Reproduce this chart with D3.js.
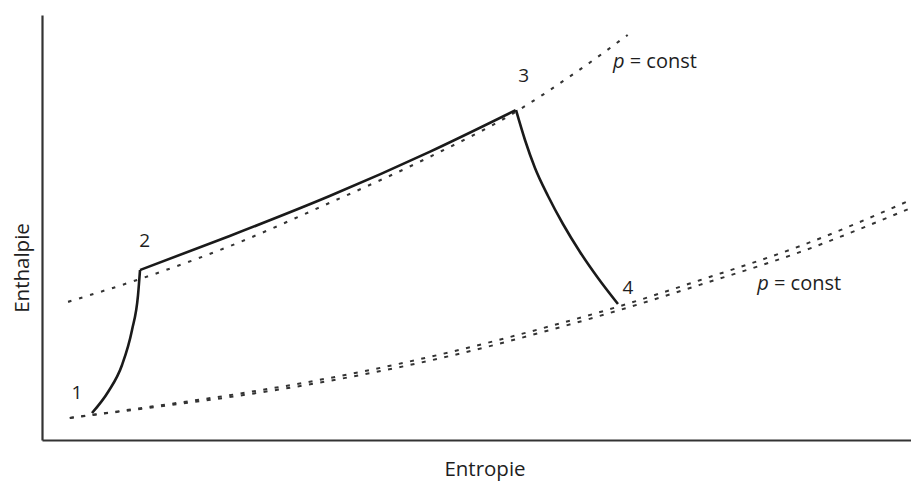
<!DOCTYPE html>
<html><head><meta charset="utf-8">
<script src="https://cdn.jsdelivr.net/npm/d3@7"></script>
<style>body{margin:0;background:#fff}svg{display:block}text{font-family:"Open Sans","Noto Sans",sans-serif;fill:#1e1e1e}</style>
</head><body>
<script>
// Abstract entropy (s) / enthalpy (h) units, 0..100
const compression12 = [[5.75,6.35],[7.6,11.3],[9.2,17.6],[10.36,25.9],[11.05,34.1],[11.28,40.0]];
const heating23 = [[11.28,40.0],[21.6,48.0],[33.1,57.4],[44.6,67.8],[54.5,77.6]];
const expansion34 = [[54.55,77.6],[55.58,70.59],[56.73,64.0],[58.23,57.41],[59.95,50.82],[61.91,44.24],[63.98,38.12],[66.28,32.0]];
const isobarHigh = [[3.0,32.5],[11.3,37.9],[21.6,45.6],[33.1,55.8],[44.6,66.6],[54.5,77.2],[60.8,85.6],[67.4,95.3]];
const isobarLowA = [[3.2,5.2],[12.4,7.8],[23.9,11.3],[35.4,15.5],[47.0,20.7],[58.5,26.8],[66.5,31.5],[75.7,37.6],[87.2,45.6],[100,56.5]];
const isobarLowB = [[3.2,5.2],[12.4,7.6],[23.9,10.8],[35.4,14.8],[47.0,19.8],[58.5,25.9],[66.5,30.6],[75.7,36.5],[87.2,44.2],[100,54.6]];
const pointLabels = [{t:"1",s:3.4,h:9.6},{t:"2",s:11.2,h:45.5},{t:"3",s:54.8,h:84.3},{t:"4",s:66.8,h:34.3}];
const isobarLabels = [{s:65.7,h:87.5},{s:82.3,h:35.3}];
const xTitle = "Entropie", yTitle = "Enthalpie";

const W=911,H=482;
const svg=d3.select("body").append("svg").attr("width",W).attr("height",H);
const x=d3.scaleLinear().domain([0,100]).range([42,911]);
const y=d3.scaleLinear().domain([0,100]).range([440,15]);

svg.append("g").attr("transform","translate(0,440)").call(d3.axisBottom(x).tickValues([]).tickSizeOuter(0));
svg.append("g").attr("transform","translate(42,0)").call(d3.axisLeft(y).tickValues([]).tickSizeOuter(0));
svg.selectAll(".domain").attr("stroke","#333").attr("stroke-width",2.2);

const line=d3.line().x(d=>x(d[0])).y(d=>y(d[1])).curve(d3.curveMonotoneX);

svg.append("path").datum(isobarHigh).attr("d",line).attr("fill","none").attr("stroke","#333").attr("stroke-width",2.1).attr("stroke-dasharray","3.5,8");
[isobarLowA,isobarLowB].forEach(dat=>{
  svg.append("path").datum(dat).attr("d",line).attr("fill","none").attr("stroke","#333").attr("stroke-width",2).attr("stroke-dasharray","4,7.5");
});
[compression12,heating23,expansion34].forEach(dat=>{
  svg.append("path").datum(dat).attr("d",line).attr("fill","none").attr("stroke","#1a1a1a").attr("stroke-width",2.6).attr("stroke-linejoin","miter");
});

svg.selectAll(".pl").data(pointLabels).join("text").attr("x",d=>x(d.s)).attr("y",d=>y(d.h)).attr("font-size",19).text(d=>d.t);
isobarLabels.forEach(d=>{
  const t=svg.append("text").attr("x",x(d.s)).attr("y",y(d.h)).attr("font-size",20);
  t.append("tspan").attr("font-style","italic").text("p");
  t.append("tspan").text(" = const");
});
svg.append("text").attr("x",485).attr("y",476).attr("text-anchor","middle").attr("font-size",20.5).text(xTitle);
svg.append("text").attr("transform","translate(29,268) rotate(-90)").attr("text-anchor","middle").attr("font-size",20.5).text(yTitle);
</script>
</body></html>
